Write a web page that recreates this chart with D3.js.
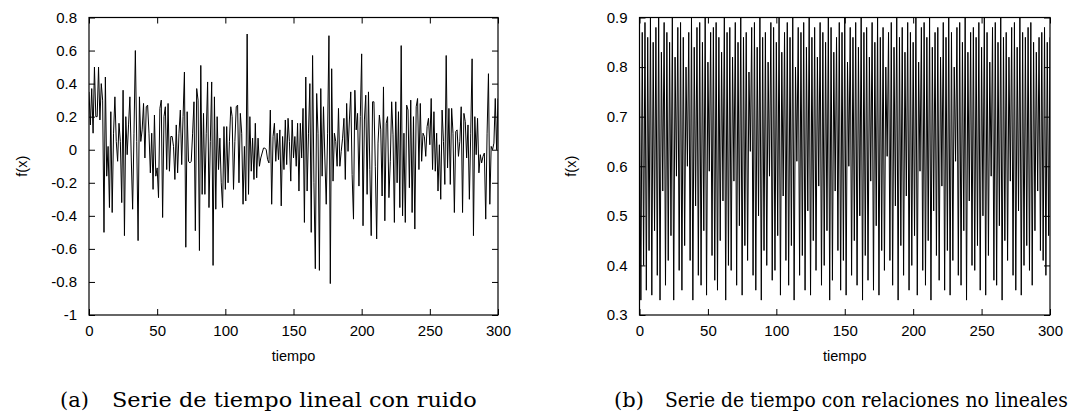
<!DOCTYPE html>
<html><head><meta charset="utf-8">
<script src="https://cdn.jsdelivr.net/npm/d3@7"></script>
<style>body{margin:0;background:#fff}svg{display:block}</style>
</head><body>
<svg id="c" width="1075" height="414"></svg>
<script>
// ---- data ----
const xTicks = [0, 50, 100, 150, 200, 250, 300];
const yTicksA = [0.8, 0.6, 0.4, 0.2, 0, -0.2, -0.4, -0.6, -0.8, -1];
const yTicksB = [0.9, 0.8, 0.7, 0.6, 0.5, 0.4, 0.3];
const xLabel = "tiempo";
const yLabel = "f(x)";
const captionA = ["(a)", "Serie de tiempo lineal con ruido"];
const captionB = ["(b)", "Serie de tiempo con relaciones no lineales"];

// series (a): linear time series with noise, t = 0..300
const seriesA = [
 0.35,0.15,0.37,0.10,0.50,0.20,0.20,0.50,0.18,0.40,
 0.30,-0.50,0.44,-0.16,0.02,-0.35,0.23,-0.38,0.10,0.32,
 0.05,-0.07,0.16,0.05,-0.32,0.36,-0.52,0.20,-0.03,0.15,
 0.32,-0.05,-0.36,0.10,0.60,0.05,-0.55,0.32,0.05,0.12,
 0.28,-0.05,0.26,0.27,0.10,-0.14,0.10,-0.24,0.21,-0.16,
 -0.11,-0.29,0.25,0.30,-0.41,0.20,0.26,-0.12,0.28,-0.13,
 0.08,0.08,0.02,-0.18,0.15,-0.14,0.10,0.24,-0.09,0.20,
 0.47,-0.59,0.23,-0.07,-0.08,-0.07,0.10,0.29,-0.49,0.37,
 0.30,-0.61,0.51,-0.27,0.22,-0.27,0.10,0.41,-0.35,0.05,
 0.41,-0.70,0.32,-0.36,0.20,-0.12,0.07,-0.20,-0.35,0.14,
 -0.24,0.14,-0.20,0.05,0.26,0.20,-0.24,0.05,0.26,0.27,
 -0.20,0.22,0.10,-0.33,0.02,-0.31,0.70,-0.27,0.20,-0.13,
 0.07,-0.18,0.16,-0.17,0.07,-0.10,-0.05,-0.02,0.01,0.01,
 0.00,-0.06,-0.08,0.24,-0.33,0.08,0.16,-0.07,0.10,-0.06,
 0.12,-0.34,0.08,-0.12,0.18,-0.09,0.19,0.05,-0.19,0.18,
 -0.05,0.08,-0.10,0.16,-0.25,0.16,-0.05,0.25,-0.44,0.44,
 -0.25,0.10,0.40,-0.50,0.57,-0.20,-0.72,0.34,0.10,-0.73,
 0.37,-0.16,0.26,-0.05,-0.33,0.10,0.69,-0.81,0.49,-0.19,
 0.10,0.05,-0.10,0.25,-0.10,-0.01,0.07,0.19,-0.18,0.28,
 -0.01,0.18,0.35,-0.15,-0.42,0.36,0.12,0.22,-0.22,0.20,
 0.58,-0.46,0.18,0.33,-0.27,0.35,-0.12,-0.52,0.29,0.29,
 -0.10,-0.54,0.04,0.21,0.12,-0.28,0.38,-0.43,0.16,0.20,
 -0.29,-0.07,0.29,0.09,-0.44,0.29,-0.20,0.23,-0.35,0.63,
 -0.40,0.10,-0.44,0.27,0.24,-0.23,0.30,-0.38,0.20,-0.48,
 0.26,0.31,-0.12,0.28,-0.07,0.10,0.08,-0.04,0.14,0.19,
 0.03,0.31,-0.12,0.23,-0.13,0.10,-0.25,0.03,-0.30,0.24,
 0.05,-0.21,0.57,-0.11,0.25,-0.21,0.25,0.10,-0.38,0.11,
 0.12,-0.04,0.05,0.26,-0.38,0.22,0.17,-0.05,0.15,-0.30,
 0.10,0.55,-0.52,0.20,-0.03,0.19,-0.14,-0.03,-0.08,-0.04,
 -0.02,-0.42,0.10,0.46,-0.33,0.02,0.00,0.04,0.31,0.00,
 0.31
];

// series (b): time series with nonlinear relations, t = 0..300
const seriesB = [
 0.79,0.33,0.87,0.40,0.89,0.35,0.86,0.43,0.90,0.34,0.85,0.47,0.88,0.38,0.90,0.33,0.83,0.55,0.89,0.36,
 0.87,0.41,0.85,0.46,0.90,0.33,0.82,0.58,0.88,0.39,0.89,0.35,0.86,0.44,0.80,0.60,0.87,0.41,0.90,0.33,
 0.84,0.52,0.88,0.38,0.89,0.36,0.85,0.47,0.90,0.34,0.81,0.59,0.87,0.42,0.88,0.37,0.89,0.35,0.86,0.45,
 0.83,0.53,0.90,0.33,0.87,0.40,0.88,0.39,0.82,0.57,0.89,0.36,0.85,0.48,0.90,0.34,0.86,0.44,0.87,0.41,
 0.79,0.63,0.88,0.38,0.89,0.35,0.84,0.50,0.90,0.33,0.86,0.43,0.87,0.40,0.81,0.58,0.89,0.37,0.88,0.39,
 0.85,0.46,0.90,0.34,0.83,0.54,0.87,0.41,0.89,0.36,0.86,0.44,0.90,0.33,0.80,0.61,0.88,0.38,0.87,0.42,
 0.89,0.35,0.84,0.51,0.90,0.34,0.86,0.45,0.88,0.39,0.82,0.56,0.89,0.36,0.87,0.40,0.85,0.47,0.90,0.33,
 0.88,0.37,0.83,0.55,0.86,0.43,0.89,0.35,0.87,0.41,0.90,0.34,0.81,0.60,0.88,0.38,0.86,0.45,0.89,0.36,
 0.84,0.50,0.90,0.33,0.87,0.42,0.88,0.37,0.82,0.57,0.89,0.35,0.85,0.48,0.90,0.34,0.86,0.43,0.88,0.39,
 0.80,0.62,0.87,0.41,0.89,0.36,0.84,0.52,0.90,0.33,0.86,0.44,0.88,0.38,0.83,0.54,0.89,0.35,0.87,0.40,
 0.85,0.46,0.90,0.34,0.81,0.59,0.88,0.39,0.89,0.36,0.86,0.45,0.90,0.33,0.84,0.51,0.87,0.42,0.88,0.37,
 0.82,0.56,0.89,0.35,0.86,0.43,0.90,0.34,0.87,0.41,0.80,0.61,0.88,0.38,0.89,0.36,0.85,0.47,0.90,0.33,
 0.83,0.53,0.87,0.40,0.88,0.39,0.86,0.44,0.89,0.35,0.84,0.50,0.90,0.34,0.87,0.42,0.81,0.58,0.88,0.37,
 0.89,0.36,0.85,0.48,0.90,0.33,0.86,0.45,0.87,0.41,0.82,0.57,0.88,0.38,0.89,0.35,0.84,0.51,0.90,0.34,
 0.87,0.40,0.86,0.44,0.88,0.39,0.89,0.36,0.85,0.47,0.83,0.55,0.86,0.43,0.87,0.41,0.88,0.38,0.85,0.46,
 0.86
];

// ---- drawing ----
const svg = d3.select("#c");
const sansFont = "'Liberation Sans', Arial, sans-serif";
const serifFont = "'DejaVu Serif', serif";

function panel(opts) {
  const {left, right, top, bottom, yDomain, yTicks, data, yFmt, ylabX, id} = opts;
  const x = d3.scaleLinear().domain([0, 300]).range([left, right]);
  const y = d3.scaleLinear().domain(yDomain).range([bottom, top]);
  const g = svg.append("g");
  const tl = 6;

  g.append("clipPath").attr("id", id).append("rect")
    .attr("x", left).attr("y", top).attr("width", right - left).attr("height", bottom - top);

  const line = d3.line().x((d, i) => x(i)).y(d => y(d));
  g.append("path").datum(data)
    .attr("clip-path", `url(#${id})`)
    .attr("fill", "none").attr("stroke", "#000").attr("stroke-width", 1)
    .attr("d", line);

  // axes: ticks inward on all four sides
  const axB = d3.axisBottom(x).tickValues(xTicks).tickSize(-tl).tickPadding(10).tickFormat(d3.format("d"));
  const axT = d3.axisTop(x).tickValues(xTicks).tickSize(-tl).tickFormat("");
  const axL = d3.axisLeft(y).tickValues(yTicks).tickSize(-tl).tickPadding(12).tickFormat(yFmt);
  const axR = d3.axisRight(y).tickValues(yTicks).tickSize(-tl).tickFormat("");

  const gb = g.append("g").attr("transform", `translate(0,${bottom})`).call(axB);
  const gt = g.append("g").attr("transform", `translate(0,${top})`).call(axT);
  const gl = g.append("g").attr("transform", `translate(${left},0)`).call(axL);
  const gr = g.append("g").attr("transform", `translate(${right},0)`).call(axR);
  [gb, gt, gl, gr].forEach(a => {
    a.select(".domain").remove();
    a.selectAll(".tick line").attr("stroke", "#000").attr("stroke-width", 1);
    a.selectAll("text").attr("font-family", sansFont).attr("font-size", 15).attr("fill", "#000");
  });

  g.append("rect").attr("x", left).attr("y", top)
    .attr("width", right - left).attr("height", bottom - top)
    .attr("fill", "none").attr("stroke", "#000").attr("stroke-width", 1.2);

  g.append("text").attr("x", (left + right) / 2).attr("y", bottom + 46)
    .attr("text-anchor", "middle").attr("font-family", sansFont).attr("font-size", 14.5)
    .text(xLabel);
  g.append("text").attr("transform", `translate(${ylabX},${(top + bottom) / 2}) rotate(-90)`)
    .attr("text-anchor", "middle").attr("font-family", sansFont).attr("font-size", 14.5)
    .text(yLabel);
}

panel({left: 89, right: 498, top: 17.5, bottom: 315, yDomain: [-1, 0.8], yTicks: yTicksA,
  data: seriesA, yFmt: d => d === 0 ? "0" : (d === -1 ? "-1" : d3.format(".1f")(d).replace("−", "-")),
  ylabX: 27, id: "clipA"});
panel({left: 639.5, right: 1050, top: 17.5, bottom: 315, yDomain: [0.3, 0.9], yTicks: yTicksB,
  data: seriesB, yFmt: d3.format(".1f"), ylabX: 576, id: "clipB"});

function caption(x0, x1, len, parts) {
  svg.append("text").attr("x", x0).attr("y", 407).attr("font-family", serifFont).attr("font-size", 21)
    .attr("fill", "#000").text(parts[0]);
  const t = svg.append("text").attr("x", 0).attr("y", 0).attr("font-family", serifFont).attr("font-size", 21)
    .attr("fill", "#000").text(parts[1]);
  const w = t.node().getComputedTextLength();
  t.attr("transform", `translate(${x1},407) scale(${len / w},1)`);
}
caption(60, 112, 365, captionA);
caption(614, 665, 403, captionB);
</script>
</body></html>
